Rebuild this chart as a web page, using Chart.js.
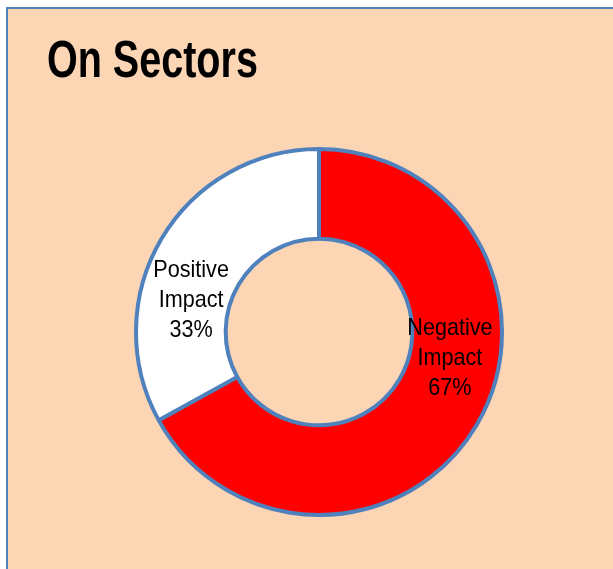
<!DOCTYPE html>
<html>
<head>
<meta charset="utf-8">
<script src="https://cdn.jsdelivr.net/npm/chart.js@4/dist/chart.umd.min.js"></script>
<style>
  html, body { margin: 0; padding: 0; width: 613px; height: 569px; overflow: hidden; background: #ffffff; }
  #panel { position: absolute; left: 6px; top: 7px; width: 700px; height: 700px; background: #FCD5B5; border: 2px solid #4F81BD; }
  #wrap { position: absolute; left: 0; top: 0; width: 613px; height: 569px; }
</style>
</head>
<body>
<div id="panel"></div>
<div id="wrap"><canvas id="c" width="613" height="569"></canvas></div>
<script>
const chartTitle = "On Sectors";
const categories = ["Negative Impact", "Positive Impact"];
const values = [67, 33];
const percentLabels = ["67%", "33%"];
const sliceColors = ["#FF0000", "#FFFFFF"];

// label nudges relative to the arc centroid (Excel best-fit placement)
const labelNudge = [[12, -44], [-9, 39]];

const overlayText = {
  id: 'overlayText',
  afterDatasetsDraw(chart) {
    const ctx = chart.ctx;
    ctx.save();
    ctx.fillStyle = '#000';
    ctx.font = 'bold 51px "Liberation Sans", Arial, sans-serif';
    ctx.textBaseline = 'alphabetic';
    ctx.textAlign = 'left';
    ctx.save();
    ctx.translate(47, 77);
    ctx.scale(0.775, 1);
    ctx.fillText(chartTitle, 0, 0);
    ctx.restore();
    const meta = chart.getDatasetMeta(0);
    ctx.font = '24px "Liberation Sans", Arial, sans-serif';
    ctx.textAlign = 'center';
    ctx.textBaseline = 'middle';
    meta.data.forEach((arc, i) => {
      const p = arc.tooltipPosition();
      const cx = p.x + labelNudge[i][0];
      const cy = p.y + labelNudge[i][1];
      const words = categories[i].split(' ');
      const lines = [words[0], words[1], percentLabels[i]];
      lines.forEach((t, k) => {
        ctx.save();
        ctx.translate(cx, cy + (k - 1) * 30);
        ctx.scale(0.9, 1);
        ctx.fillText(t, 0, 0);
        ctx.restore();
      });
    });
    ctx.restore();
  }
};

new Chart(document.getElementById('c'), {
  type: 'doughnut',
  data: {
    labels: categories,
    datasets: [{
      data: values,
      backgroundColor: sliceColors,
      borderColor: '#4F81BD',
      borderWidth: 4,
      hoverOffset: 0
    }]
  },
  options: {
    responsive: false,
    animation: false,
    cutout: '51%',
    rotation: 0,
    layout: { padding: { left: 134, right: 109, top: 147, bottom: 52 } },
    plugins: {
      legend: { display: false },
      tooltip: { enabled: false },
      title: { display: false }
    }
  },
  plugins: [overlayText]
});
</script>
</body>
</html>
